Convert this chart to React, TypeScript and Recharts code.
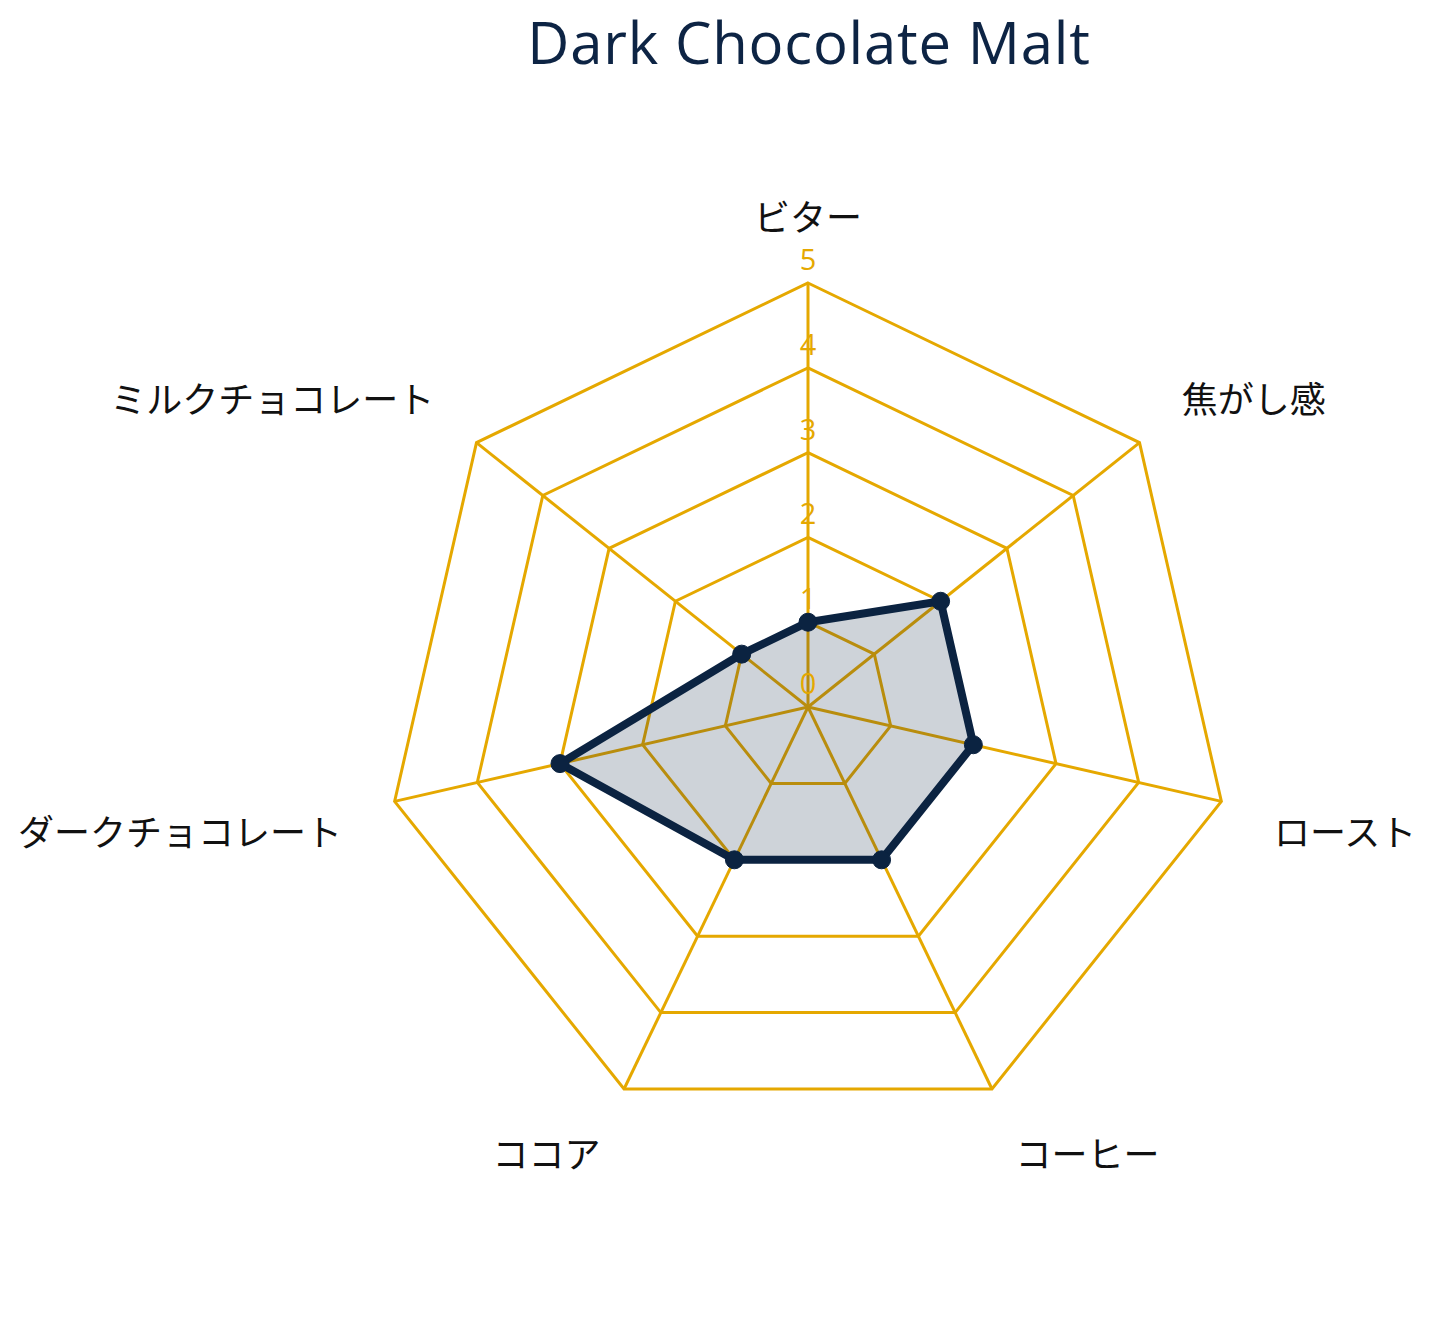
import { PolarAngleAxis, PolarGrid, PolarRadiusAxis, Radar, RadarChart } from 'recharts'

const axes = ['ビター', '焦がし感', 'ロースト', 'コーヒー', 'ココア', 'ダークチョコレート', 'ミルクチョコレート']
const scores = [1, 2, 2, 2, 2, 3, 1]
const radiusTicks = [0, 1, 2, 3, 4, 5]

const data = axes.map((axis, i) => ({ axis, score: scores[i] }))

const GOLD = '#E5A800'
const NAVY = '#0B2341'
const CX = 808
const CY = 707

function AngleTick(props: any) {
  const { payload } = props
  const rad = (payload.coordinate * Math.PI) / 180
  const cos = Math.cos(rad)
  const sin = Math.sin(rad)
  const r = 478
  const x = CX + r * cos
  const y = CY - r * sin
  const anchor = cos > 0.01 ? 'start' : cos < -0.01 ? 'end' : 'middle'
  // nudge labels vertically depending on where they sit round the web
  let off = -14
  if (sin < 0.9 && sin >= 0.1) off = -12
  else if (sin < 0.1 && sin > -0.5) off = 17
  else if (sin <= -0.5) off = 14
  return (
    <text
      x={x}
      y={y + off}
      textAnchor={anchor}
      dominantBaseline="central"
      fill="#111"
      fontSize={36}
      fontFamily="'Noto Sans CJK JP', 'Noto Sans', sans-serif"
    >
      {payload.value}
    </text>
  )
}

function RadiusTick(props: any) {
  const { x, y, payload } = props
  return (
    <text
      x={x}
      y={y - 13}
      textAnchor="middle"
      fill={GOLD}
      fontSize={29}
      fontFamily="'Open Sans', sans-serif"
    >
      {payload.value}
    </text>
  )
}

export default function App() {
  return (
    <div style={{ position: 'absolute', left: 0, top: 0, width: 1440, height: 1323, background: '#fff' }}>
      <div
        style={{
          position: 'absolute',
          left: 0,
          top: 13,
          width: 1618,
          textAlign: 'center',
          fontFamily: "'Open Sans', sans-serif",
          fontSize: 58,
          lineHeight: '58px',
          letterSpacing: 0.8,
          color: '#0D2444',
        }}
      >
        Dark Chocolate Malt
      </div>
      <RadarChart
        width={1440}
        height={1323}
        data={data}
        cx={CX}
        cy={CY}
        outerRadius={424}
        startAngle={90}
        endAngle={-270}
        margin={{ top: 0, right: 0, bottom: 0, left: 0 }}
      >
        <PolarGrid gridType="polygon" stroke={GOLD} strokeWidth={3} />
        <PolarAngleAxis dataKey="axis" tick={AngleTick} tickLine={false} axisLine={false} />
        <PolarRadiusAxis
          angle={90}
          domain={[0, 5]}
          ticks={radiusTicks as any}
          tickCount={6}
          tick={RadiusTick}
          axisLine={false}
          tickLine={false}
        />
        <Radar
          dataKey="score"
          stroke={NAVY}
          strokeWidth={8}
          fill={NAVY}
          fillOpacity={0.2}
          dot={{ r: 9, fill: NAVY, stroke: NAVY, strokeWidth: 1, fillOpacity: 1 }}
          isAnimationActive={false}
        />
      </RadarChart>
    </div>
  )
}
